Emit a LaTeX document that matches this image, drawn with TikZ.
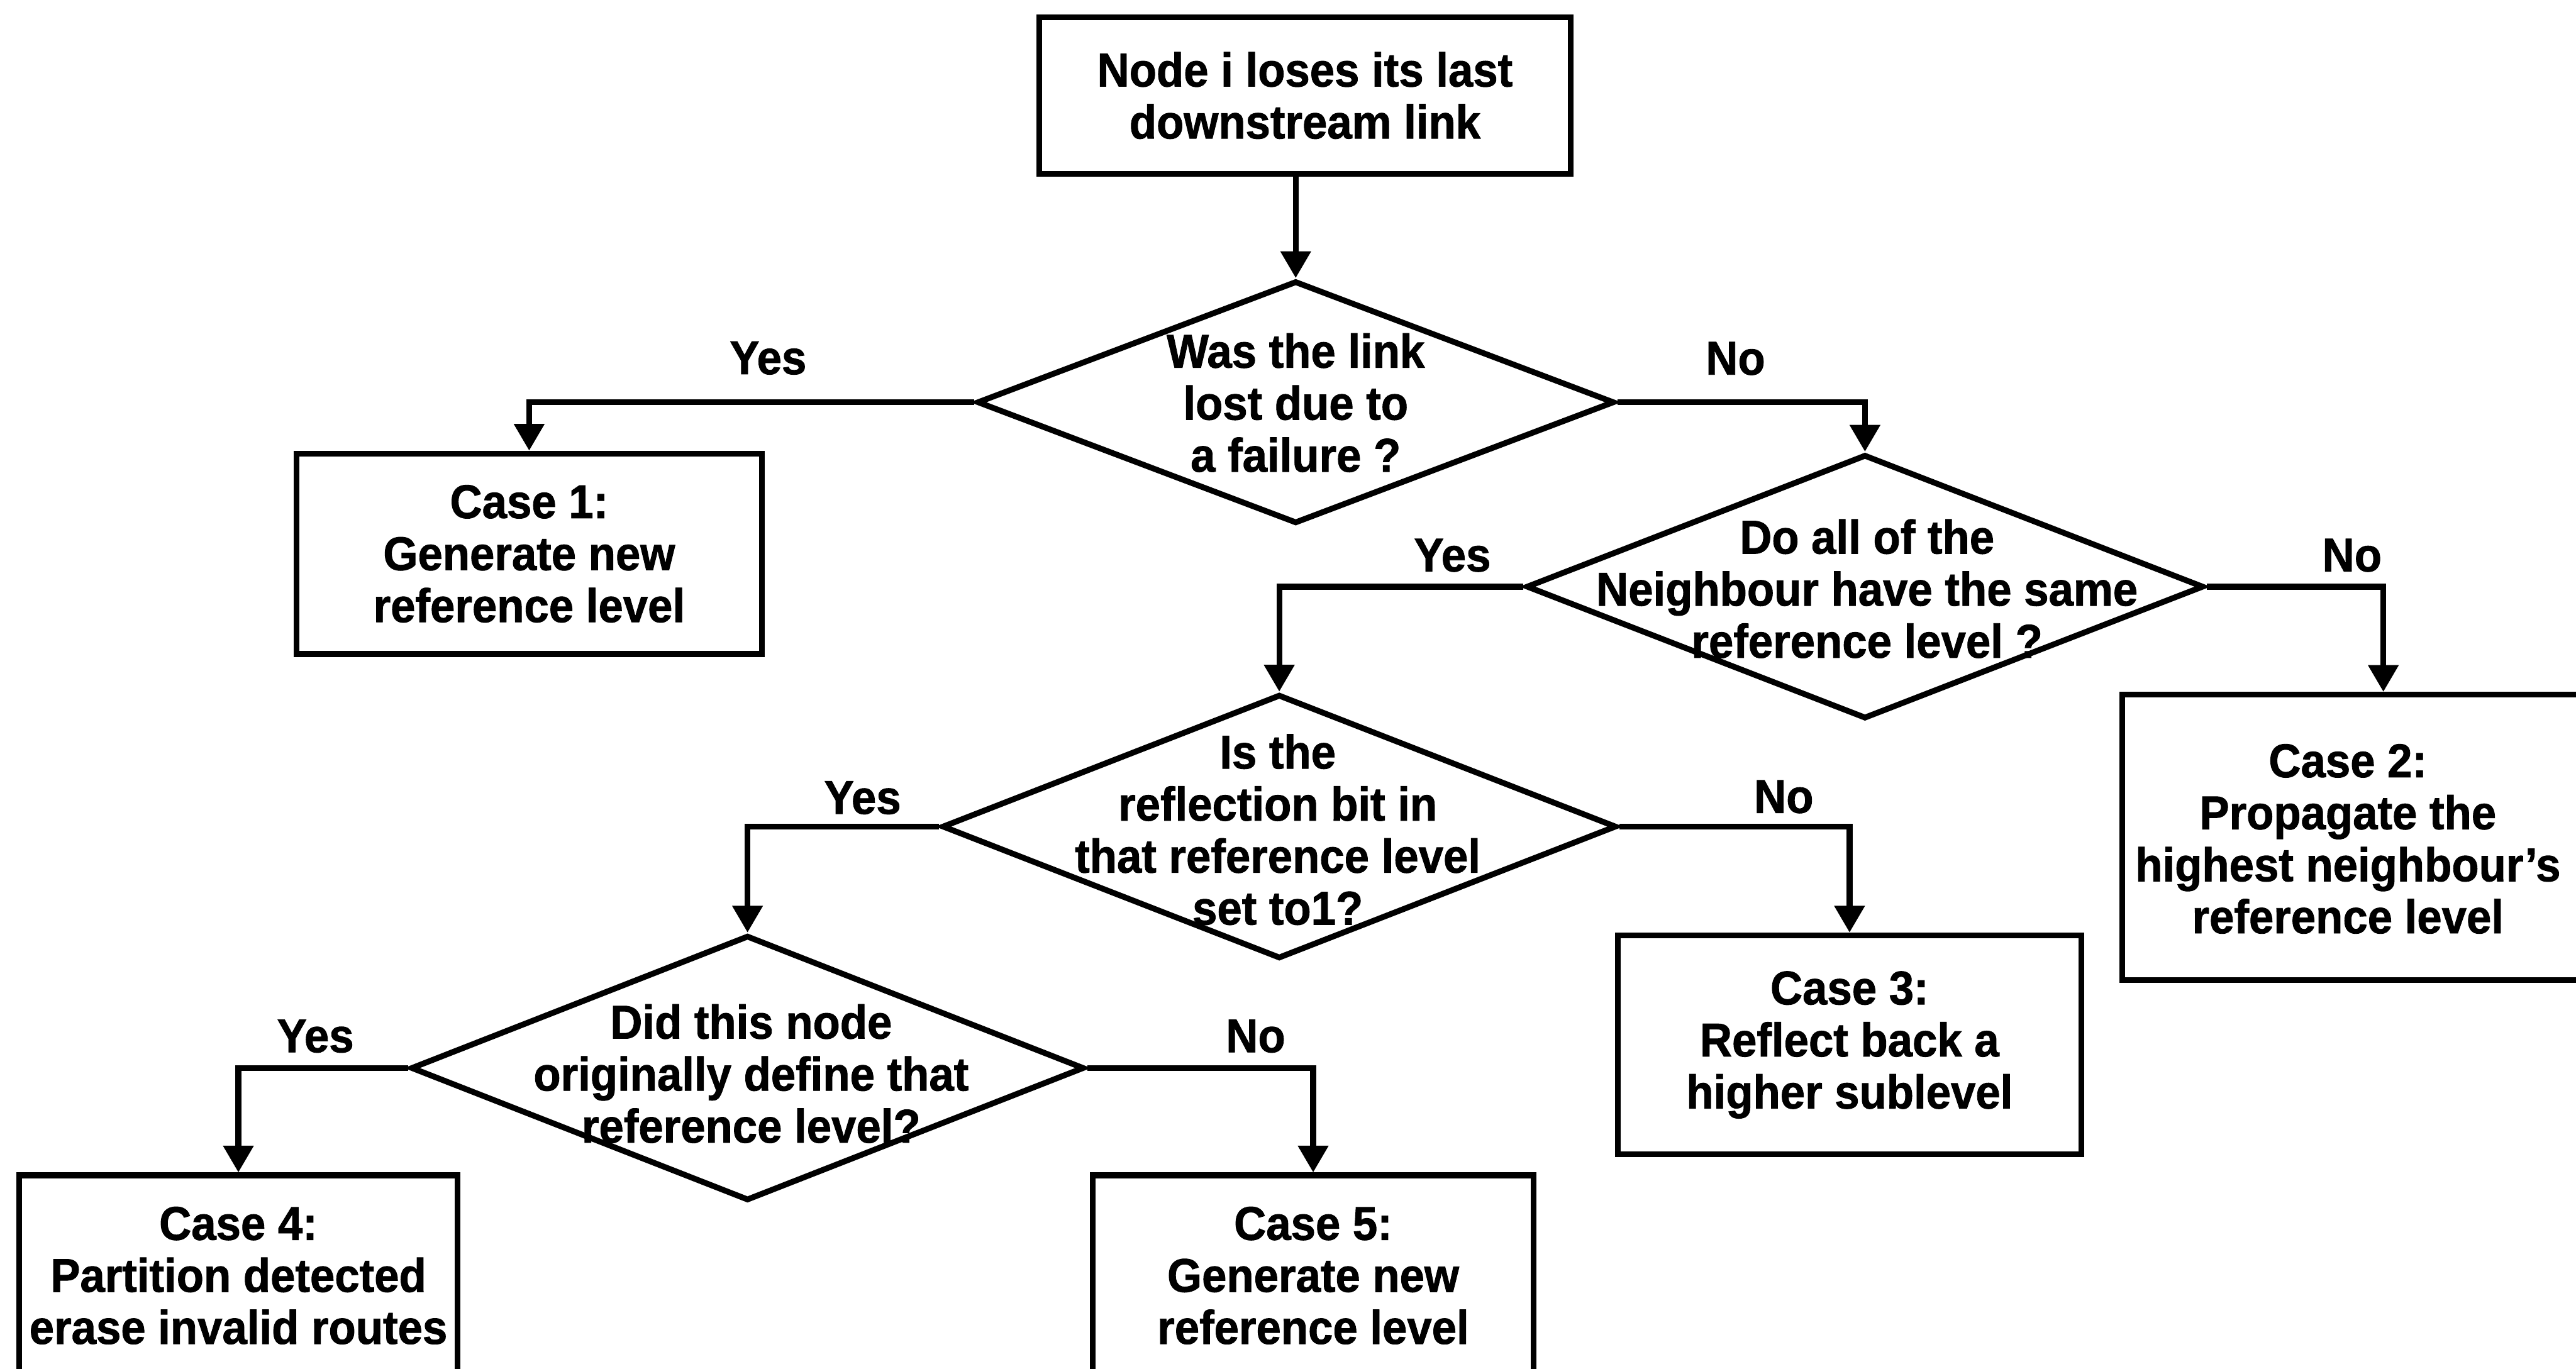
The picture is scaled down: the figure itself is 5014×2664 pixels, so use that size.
\documentclass[tikz,border=0pt]{standalone}
\usepackage{fontspec}
\setmainfont{Liberation Sans}[FakeStretch=0.94, BoldFeatures={FakeBold=1.2}]
\usetikzlibrary{shapes.geometric,arrows.meta}
\begin{document}
\begin{tikzpicture}[x=0.01cm,y=-0.01cm,
  every node/.style={font=\fontsize{26.2pt}{28.8pt}\selectfont\bfseries},
  box/.style={draw, line width=3.2pt, rectangle, inner sep=0pt, align=center},
  decision/.style={draw, line width=3.2pt, diamond, inner sep=0pt},
  txt/.style={align=center, inner sep=0pt},
  lbl/.style={inner sep=0pt},
  flow/.style={line width=3.2pt, -{Triangle[length=0.52cm,width=0.57cm]}},
]
\clip (0,0) rectangle (5014,2664);
\fill[white] (0,0) rectangle (5014,2664);

% start box
\node[box, minimum width=10.33cm, minimum height=3.05cm] (start) at (2540,186)
  {Node i loses its last\\downstream link};

% decisions
\node[decision, minimum width=12.4cm, minimum height=4.72cm] (d1) at (2522,783) {};
\node[txt] (d1t) at (2522,784) {Was the link\\lost due to\\a failure ?};

\node[decision, minimum width=13.18cm, minimum height=5.14cm] (d2) at (3630,1142) {};
\node[txt] (d2t) at (3634,1146) {Do all of the\\Neighbour have the same\\reference level ?};

\node[decision, minimum width=13.12cm, minimum height=5.14cm] (d3) at (2490,1609) {};
\node[txt] (d3t) at (2487,1615) {Is the\\reflection bit in\\that reference level\\set to1?};

\node[decision, minimum width=13.1cm, minimum height=5.16cm] (d4) at (1455,2079) {};
\node[txt] (d4t) at (1462,2090) {Did this node\\originally define that\\reference level?};

% outcome boxes
\node[box, minimum width=9.05cm, minimum height=3.9cm] (c1) at (1030,1078)
  {Case 1:\\Generate new\\reference level};
\node[draw, line width=3.2pt, rectangle, inner sep=0pt,
      minimum width=10.16cm, minimum height=5.55cm] (c2) at (4639,1630) {};
\node[txt] (c2t) at (4570,1633)
  {Case 2:\\Propagate the\\highest neighbour's\\reference level};
\node[box, minimum width=9.02cm, minimum height=4.26cm] (c3) at (3600,2034)
  {Case 3:\\Reflect back a\\higher sublevel};
\node[box, minimum width=8.52cm, minimum height=3.9cm] (c4) at (464,2483)
  {Case 4:\\Partition detected\\erase invalid routes};
\node[box, minimum width=8.58cm, minimum height=3.9cm] (c5) at (2556,2483)
  {Case 5:\\Generate new\\reference level};

% connectors
\draw[flow] (start.south -| d1.north) -- (d1.north);
\draw[flow] (d1.west) -| (c1.north);
\draw[flow] (d1.east) -| (d2.north);
\draw[flow] (d2.west) -| (d3.north);
\draw[flow] (d2.east) -| (c2.north);
\draw[flow] (d3.west) -| (d4.north);
\draw[flow] (d3.east) -| (c3.north);
\draw[flow] (d4.west) -| (c4.north);
\draw[flow] (d4.east) -| (c5.north);

% branch labels
\node[lbl] (y1) at (1495,697) {Yes};
\node[lbl] (n1) at (3378,698) {No};
\node[lbl] (y2) at (2827,1081) {Yes};
\node[lbl] (n2) at (4578,1081) {No};
\node[lbl] (y3) at (1679,1553) {Yes};
\node[lbl] (n3) at (3472,1551) {No};
\node[lbl] (y4) at (614,2017) {Yes};
\node[lbl] (n4) at (2444,2017) {No};
\end{tikzpicture}
\end{document}
